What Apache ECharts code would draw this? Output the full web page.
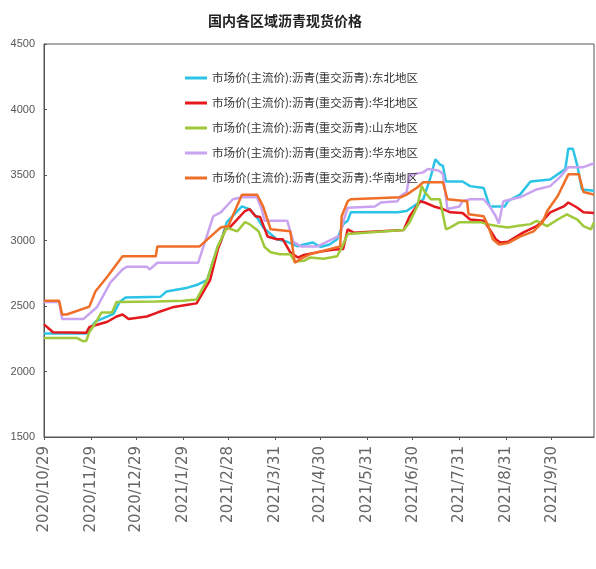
<!DOCTYPE html>
<html>
<head>
<meta charset="utf-8">
<script src="https://cdn.jsdelivr.net/npm/echarts@6/dist/echarts.min.js"></script>
<style>
html,body{margin:0;padding:0;background:#fff;}
#chart{width:596px;height:569px;}
</style>
</head>
<body>
<div id="chart"></div>
<script>
const titleText = '国内各区域沥青现货价格';
const seriesNames = [
  '市场价(主流价):沥青(重交沥青):东北地区',
  '市场价(主流价):沥青(重交沥青):华北地区',
  '市场价(主流价):沥青(重交沥青):山东地区',
  '市场价(主流价):沥青(重交沥青):华东地区',
  '市场价(主流价):沥青(重交沥青):华南地区'
];
const xTickLabels = ['2020/10/29','2020/11/29','2020/12/29','2021/1/29','2021/2/28','2021/3/31','2021/4/30','2021/5/31','2021/6/30','2021/7/31','2021/8/31','2021/9/30'];
const yTicks = [1500, 2000, 2500, 3000, 3500, 4000, 4500];

// 东北地区
const dongbeiDates = ['2020/10/29','2020/11/26','2020/12/2','2020/12/14','2020/12/18','2020/12/22','2021/1/14','2021/1/18','2021/2/1','2021/2/7','2021/2/14','2021/2/21','2021/2/23','2021/2/27','2021/3/6','2021/3/9','2021/3/14','2021/3/19','2021/3/23','2021/3/26','2021/4/1','2021/4/8','2021/4/15','2021/4/19','2021/4/25','2021/4/30','2021/5/6','2021/5/11','2021/5/15','2021/5/18','2021/5/20','2021/6/20','2021/6/26','2021/7/3','2021/7/7','2021/7/12','2021/7/15','2021/7/18','2021/7/20','2021/7/22','2021/8/2','2021/8/7','2021/8/16','2021/8/18','2021/8/20','2021/8/30','2021/9/1','2021/9/9','2021/9/16','2021/9/29','2021/10/9','2021/10/11','2021/10/14','2021/10/17','2021/10/20','2021/10/28'];
const dongbeiValues = [2290,2290,2380,2440,2530,2565,2570,2610,2640,2660,2700,2955,2990,3140,3225,3260,3240,3175,3100,3070,3010,2990,2955,2970,2985,2950,2970,3010,3125,3150,3215,3215,3225,3280,3315,3490,3620,3580,3570,3450,3450,3415,3400,3330,3260,3260,3300,3350,3450,3465,3545,3700,3700,3570,3390,3380];

// 华北地区
const huabeiDates = ['2020/10/29','2020/11/4','2020/11/26','2020/11/28','2020/12/10','2020/12/16','2020/12/20','2020/12/24','2021/1/5','2021/1/12','2021/1/22','2021/2/1','2021/2/7','2021/2/16','2021/2/21','2021/2/26','2021/3/1','2021/3/11','2021/3/14','2021/3/18','2021/3/21','2021/3/26','2021/4/1','2021/4/5','2021/4/10','2021/4/15','2021/4/19','2021/4/30','2021/5/8','2021/5/15','2021/5/18','2021/5/22','2021/6/24','2021/6/28','2021/7/5','2021/7/8','2021/7/14','2021/7/20','2021/7/25','2021/8/2','2021/8/7','2021/8/16','2021/8/20','2021/8/24','2021/8/27','2021/9/1','2021/9/11','2021/9/20','2021/9/24','2021/9/29','2021/10/8','2021/10/11','2021/10/17','2021/10/21','2021/10/28'];
const huabeiValues = [2360,2300,2295,2340,2380,2420,2435,2400,2420,2450,2490,2510,2520,2700,2930,3085,3100,3225,3240,3185,3180,3030,3010,3010,2910,2870,2890,2915,2930,2935,3085,3060,3080,3185,3300,3290,3260,3240,3215,3210,3160,3150,3085,3010,2985,2990,3060,3110,3150,3215,3260,3290,3250,3215,3210];

// 山东地区
const shandongDates = ['2020/10/29','2020/11/20','2020/11/24','2020/11/26','2020/11/28','2020/12/2','2020/12/6','2020/12/13','2020/12/16','2021/1/11','2021/1/29','2021/2/7','2021/2/14','2021/2/21','2021/2/27','2021/3/1','2021/3/6','2021/3/11','2021/3/14','2021/3/20','2021/3/24','2021/3/28','2021/4/3','2021/4/10','2021/4/13','2021/4/19','2021/4/23','2021/5/2','2021/5/11','2021/5/14','2021/5/18','2021/6/24','2021/6/28','2021/7/3','2021/7/6','2021/7/8','2021/7/12','2021/7/18','2021/7/22','2021/7/25','2021/7/31','2021/8/14','2021/8/18','2021/8/25','2021/9/1','2021/9/7','2021/9/16','2021/9/20','2021/9/27','2021/10/4','2021/10/10','2021/10/17','2021/10/21','2021/10/26','2021/10/28'];
const shandongValues = [2255,2255,2230,2235,2300,2370,2450,2450,2530,2535,2540,2550,2700,2955,3100,3090,3070,3140,3125,3070,2950,2910,2895,2895,2840,2845,2870,2860,2880,2945,3050,3080,3140,3260,3415,3370,3315,3315,3085,3100,3140,3140,3125,3110,3100,3110,3125,3150,3110,3160,3200,3160,3110,3085,3140];

// 华东地区
const huadongDates = ['2020/10/29','2020/11/8','2020/11/10','2020/11/24','2020/12/3','2020/12/12','2020/12/20','2020/12/23','2021/1/5','2021/1/7','2021/1/12','2021/2/8','2021/2/18','2021/2/23','2021/3/3','2021/3/9','2021/3/19','2021/3/22','2021/3/24','2021/4/8','2021/4/12','2021/4/17','2021/4/28','2021/5/13','2021/5/15','2021/5/18','2021/6/5','2021/6/9','2021/6/20','2021/6/22','2021/6/26','2021/6/28','2021/7/7','2021/7/10','2021/7/17','2021/7/20','2021/7/23','2021/7/31','2021/8/2','2021/8/7','2021/8/16','2021/8/20','2021/8/24','2021/8/26','2021/8/29','2021/9/9','2021/9/20','2021/9/29','2021/10/6','2021/10/11','2021/10/21','2021/10/28'];
const huadongValues = [2530,2530,2400,2400,2490,2680,2780,2800,2800,2780,2830,2830,3185,3215,3315,3330,3330,3240,3150,3150,2990,2955,2955,3040,3140,3250,3260,3290,3300,3340,3370,3500,3520,3545,3535,3510,3240,3260,3300,3315,3315,3260,3185,3130,3300,3330,3390,3415,3490,3560,3560,3590];

// 华南地区
const huananDates = ['2020/10/29','2020/11/8','2020/11/10','2020/11/13','2020/11/28','2020/12/2','2020/12/10','2020/12/20','2021/1/11','2021/1/12','2021/2/9','2021/2/23','2021/2/28','2021/3/9','2021/3/19','2021/3/23','2021/3/28','2021/4/10','2021/4/12','2021/4/13','2021/4/17','2021/4/23','2021/5/13','2021/5/14','2021/5/18','2021/5/20','2021/6/22','2021/6/26','2021/7/3','2021/7/7','2021/7/20','2021/7/23','2021/8/5','2021/8/6','2021/8/16','2021/8/19','2021/8/22','2021/8/26','2021/9/1','2021/9/9','2021/9/18','2021/9/24','2021/9/27','2021/10/4','2021/10/11','2021/10/18','2021/10/21','2021/10/28'];
const huananValues = [2540,2540,2435,2435,2495,2610,2725,2880,2880,2955,2955,3100,3110,3350,3350,3260,3085,3070,2910,2830,2860,2895,2955,3185,3300,3315,3330,3350,3405,3445,3445,3315,3300,3200,3185,3110,3010,2970,2980,3030,3070,3140,3225,3340,3505,3505,3370,3350];

const lineColors = ['#2cc4e6', '#e3191e', '#9fc83a', '#c9a3ef', '#f06f28'];

function parseDate(s) {
  const p = s.split('/').map(Number);
  return new Date(p[0], p[1] - 1, p[2]).getTime();
}
function fmtDate(v) {
  const d = new Date(v);
  return d.getFullYear() + '/' + (d.getMonth() + 1) + '/' + d.getDate();
}

const allDates = [dongbeiDates, huabeiDates, shandongDates, huadongDates, huananDates];
const allValues = [dongbeiValues, huabeiValues, shandongValues, huadongValues, huananValues];
const tickValues = xTickLabels.map(parseDate);

const chart = echarts.init(document.getElementById('chart'));
chart.setOption({
  backgroundColor: '#fff',
  animation: false,
  title: {
    text: titleText,
    left: 280, textAlign: 'center',
    top: 9,
    textStyle: { fontSize: 14, fontWeight: 'bold', color: '#222', fontFamily: 'Noto Sans CJK SC' }
  },
  legend: {
    orient: 'vertical',
    left: 180, top: 66,
    itemWidth: 22, itemHeight: 3, itemGap: 11,
    icon: 'rect',
    data: seriesNames,
    textStyle: { fontSize: 11.5, color: '#333', lineHeight: 14, fontFamily: 'Noto Sans CJK SC' }
  },
  grid: { left: 44, right: 2, top: 44, bottom: 132, show: true, borderColor: '#555', borderWidth: 1 },
  xAxis: {
    type: 'value',
    min: parseDate('2020/10/29'),
    max: parseDate('2021/10/28'),
    axisLine: { show: true, lineStyle: { color: '#555' } },
    axisTick: { show: true, customValues: tickValues, length: 3, lineStyle: { color: '#555' } },
    splitLine: { show: false },
    axisLabel: {
      customValues: tickValues,
      rotate: 90,
      margin: 9,
      fontSize: 15,
      color: '#666',
      fontFamily: 'DejaVu Sans',
      formatter: function (v) { return fmtDate(v); }
    }
  },
  yAxis: {
    type: 'value',
    min: 1500, max: 4500, interval: 500,
    axisLine: { show: true, lineStyle: { color: '#555' } },
    axisTick: { show: true, inside: true, length: 3, lineStyle: { color: '#555' } },
    splitLine: { show: false },
    axisLabel: { fontSize: 11, color: '#555', margin: 9, fontFamily: 'Liberation Sans', formatter: function (v) { return String(v); } }
  },
  series: seriesNames.map(function (name, i) {
    return {
      name: name,
      type: 'line',
      showSymbol: false,
      symbol: 'none',
      color: lineColors[i],
      lineStyle: { width: 2.5, color: lineColors[i] },
      data: allDates[i].map(function (d, j) { return [parseDate(d), allValues[i][j]]; })
    };
  })
});
</script>
</body>
</html>
